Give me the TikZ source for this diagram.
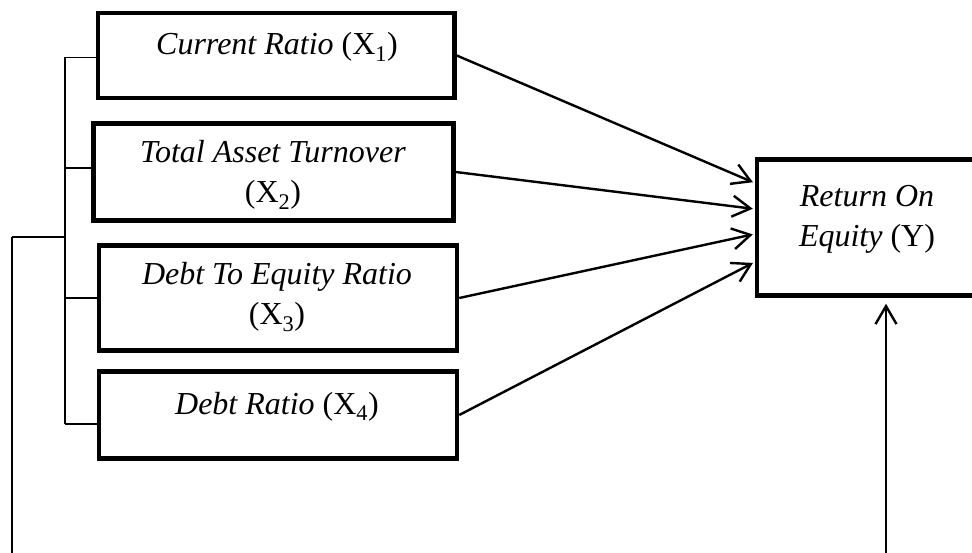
\documentclass[tikz,border=0pt]{standalone}
\usepackage{fontspec}
\setmainfont{Liberation Serif}
\usetikzlibrary{arrows.meta,calc}

\tikzset{
  varbox/.style={draw=black, line width=4.5pt, rectangle, inner sep=0pt, fill=white},
  lbl/.style={anchor=base, inner sep=0pt, font=\fontsize{32}{40}\selectfont},
  link/.style={line width=2.4pt, -{Straight Barb[length=18pt,width=21pt,line width=2.4pt]}},
  brace/.style={line width=1.3pt},
  feed/.style={line width=1.8pt},
}

\begin{document}
\begin{tikzpicture}[x=1pt, y=-1pt]
  \useasboundingbox (0,0) rectangle (972,553);
  \clip (0,0) rectangle (972,553);

  % independent variables
  \node[varbox, minimum width=356.5pt, minimum height=85pt]  (b1) at (276.25,55.5) {};
  \node[varbox, minimum width=360pt,   minimum height=97pt]  (b2) at (273.5,172) {};
  \node[varbox, minimum width=358pt,   minimum height=105pt] (b3) at (278,298) {};
  \node[varbox, minimum width=358pt,   minimum height=87pt]  (b4) at (278,415) {};

  % dependent variable (runs past the right edge)
  \node[varbox, minimum width=240pt, minimum height=136pt] (ry) at (877,227.5) {};

  % labels
  \node[lbl] (t1)  at (277,55)  {\textit{Current Ratio} (X\textsubscript{1})};
  \node[lbl] (t2a) at (273,163) {\textit{Total Asset Turnover}};
  \node[lbl] (t2b) at (273,203) {(X\textsubscript{2})};
  \node[lbl] (t3a) at (277,285) {\textit{Debt To Equity Ratio}};
  \node[lbl] (t3b) at (277,325) {(X\textsubscript{3})};
  \node[lbl] (t4)  at (277,414) {\textit{Debt Ratio} (X\textsubscript{4})};
  \node[lbl] (ya)  at (867,207) {\textit{Return On}};
  \node[lbl] (yb)  at (867,247) {\textit{Equity} (Y)};

  % arrows into Y
  \draw[link, shorten >=2pt] (b1.east) -- ($(ry.west)+(0,-44.5)$);
  \draw[link, shorten >=2pt] (b2.east) -- ($(ry.west)+(0,-18.5)$);
  \draw[link, shorten >=2pt] (b3.east) -- ($(ry.west)+(0,6.5)$);
  \draw[link, shorten >=2pt] (b4.east) -- ($(ry.west)+(0,34.5)$);

  % bracket joining the four variables
  \coordinate (k1) at (65,57.5);
  \coordinate (k2) at (65,168);
  \coordinate (k3) at (65,298);
  \coordinate (k4) at (65,424);
  \coordinate (kj) at (65,237);
  \draw[brace] (k1) -- (k4);
  \draw[brace] (k1) -- (k1 -| b1.west);
  \draw[brace] (k2) -- (k2 -| b2.west);
  \draw[brace] (k3) -- (k3 -| b3.west);
  \draw[brace] (k4) -- (k4 -| b4.west);

  % joint line leaving at the bottom and returning into Y
  \coordinate (jl) at (12,237);
  \coordinate (jb) at (12,560);
  \coordinate (ab) at (886,560);
  \draw[brace] (kj) -- (jl);
  \draw[feed] (jl) -- (jb);
  \draw[link, shorten >=6pt] (ab) -- (ab |- ry.south);
\end{tikzpicture}
\end{document}
